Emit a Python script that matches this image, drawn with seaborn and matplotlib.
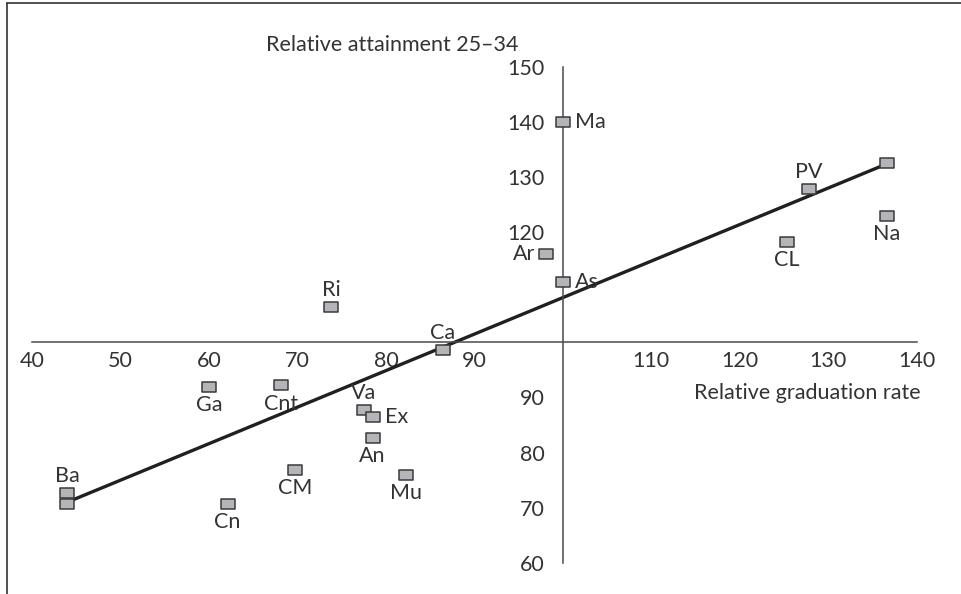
import matplotlib
matplotlib.use("Agg")
import matplotlib.pyplot as plt
import seaborn as sns
import pandas as pd
from matplotlib.path import Path
from matplotlib.lines import Line2D

# data
codes = ['Ma', '', 'PV', 'Na', 'CL', 'Ar', 'As', 'Ri', 'Ca', 'Ga', 'Cnt',
         'Va', 'Ex', 'An', 'Mu', 'CM', 'Cn', 'Ba', '']
grad_rate = [100.0, 136.6, 127.8, 136.6, 125.3, 98.1, 100.0, 73.8, 86.4, 60.0, 68.1,
             77.5, 78.5, 78.5, 82.3, 69.7, 62.1, 44.0, 44.0]
attainment = [140.0, 132.5, 127.9, 123.0, 118.3, 116.0, 111.0, 106.5, 98.7, 91.9, 92.2,
              87.7, 86.5, 82.7, 76.0, 76.9, 70.7, 72.7, 70.7]
label_side = ['right', '', 'above', 'below', 'below', 'left', 'right', 'above', 'above',
              'below', 'below', 'above', 'right', 'below', 'below', 'below', 'below',
              'above', '']

trend_x = [44.0, 136.6]
trend_y = [71.0, 132.4]

xticks = [40, 50, 60, 70, 80, 90, 110, 120, 130, 140]
yticks = [60, 70, 80, 90, 120, 130, 140, 150]

df = pd.DataFrame({'code': codes, 'grad': grad_rate, 'att': attainment, 'side': label_side})

sns.set_style('white')
plt.rcParams['font.family'] = ['Lato', 'DejaVu Sans']
txt = '#333333'
fs = 15.5

fig = plt.figure(figsize=(9.61, 5.94), dpi=100)
ax = fig.add_axes([32 / 961, 1 - 562.7 / 594, 884.7 / 961, 495.7 / 594])

sns.lineplot(x=trend_x, y=trend_y, ax=ax, color='#231f20', linewidth=2.4, zorder=2)

box = Path([(-1.3, -1), (1.3, -1), (1.3, 1), (-1.3, 1), (-1.3, -1)],
           [Path.MOVETO, Path.LINETO, Path.LINETO, Path.LINETO, Path.CLOSEPOLY])
sns.scatterplot(data=df, x='grad', y='att', ax=ax, marker=box, s=105,
                color='#b3b5b8', edgecolor='#3a3a3a', linewidth=1.1, zorder=3,
                clip_on=False)

offsets = {'right': ((9, 0), 'left', 'center'),
           'left': ((-8, 0), 'right', 'center'),
           'above': ((0, 5), 'center', 'bottom'),
           'below': ((0, -6), 'center', 'top')}
for _, r in df.iterrows():
    if not r['code']:
        continue
    off, ha, va = offsets[r['side']]
    ax.annotate(r['code'], (r['grad'], r['att']), xytext=off, textcoords='offset points',
                ha=ha, va=va, fontsize=fs, color=txt)

ax.set_xlim(40, 140)
ax.set_ylim(60, 150)
ax.set_xticks(xticks)
ax.set_yticks(yticks)
ax.set_xlabel('')
ax.set_ylabel('')

for s in ['top', 'right']:
    ax.spines[s].set_visible(False)
ax.spines['left'].set_position(('data', 100))
ax.spines['bottom'].set_position(('data', 100))
for s in ['left', 'bottom']:
    ax.spines[s].set_color('#4a4a4a')
    ax.spines[s].set_linewidth(1.1)
ax.tick_params(axis='x', direction='out', length=3, width=1, color='#4a4a4a',
               labelsize=fs, labelcolor=txt, pad=3)
ax.tick_params(axis='y', direction='out', length=5, width=1, color='#4a4a4a',
               labelsize=fs, labelcolor=txt, pad=8)
ax.patch.set_alpha(0)

ax.text(95.0, 154.0, 'Relative attainment 25\u201334', ha='right', va='center',
        fontsize=fs, color=txt, clip_on=False)
ax.text(140.4, 90.85, 'Relative graduation rate', ha='right', va='center',
        fontsize=fs, color=txt)

# thin frame on the left and top of the figure
fig.add_artist(Line2D([6.5 / 961, 6.5 / 961], [0, 1 - 3 / 594], transform=fig.transFigure,
                      color='#333333', linewidth=1.2))
fig.add_artist(Line2D([6.5 / 961, 1], [1 - 3 / 594, 1 - 3 / 594], transform=fig.transFigure,
                      color='#333333', linewidth=1.2))

fig.savefig('out.png', dpi=100)
